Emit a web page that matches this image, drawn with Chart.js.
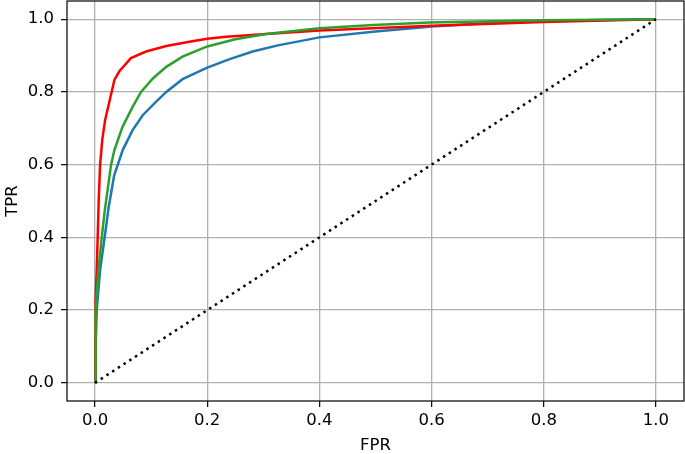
<!DOCTYPE html>
<html lang="en">
<head>
    <meta charset="UTF-8">
    <title>ROC curves</title>
    <script src="https://cdn.jsdelivr.net/npm/chart.js"></script>
    <style>
        body {
            margin: 0;
            background-color: #ffffff;
        }
        canvas {
            display: block;
        }
    </style>
</head>
<body>

<canvas id="rocCanvas" width="685" height="454"></canvas>

<script>
    // ROC curves (FPR, TPR pairs)
    const fprBlue = [0, 0.001, 0.003, 0.009, 0.018, 0.024, 0.034, 0.0493, 0.067, 0.085, 0.109, 0.127, 0.156, 0.2, 0.24, 0.281, 0.326, 0.4, 0.5, 0.6, 0.7, 0.8, 0.9, 1];
    const tprBlue = [0, 0.1, 0.2, 0.31, 0.41, 0.48, 0.57, 0.64, 0.695, 0.736, 0.773, 0.80, 0.835, 0.867, 0.89, 0.911, 0.928, 0.95, 0.966, 0.98, 0.989, 0.995, 0.998, 1];

    const fprGreen = [0, 0.0005, 0.0015, 0.006, 0.012, 0.017, 0.0286, 0.0345, 0.049, 0.067, 0.082, 0.103, 0.127, 0.156, 0.2, 0.25, 0.305, 0.4, 0.496, 0.597, 0.8, 1];
    const tprGreen = [0, 0.12, 0.2, 0.31, 0.4, 0.47, 0.6, 0.64, 0.704, 0.759, 0.80, 0.837, 0.869, 0.897, 0.925, 0.945, 0.959, 0.975, 0.984, 0.991, 0.997, 1];

    const fprRed = [0, 0.0005, 0.0012, 0.003, 0.0047, 0.0065, 0.009, 0.013, 0.018, 0.0255, 0.0345, 0.043, 0.064, 0.091, 0.127, 0.168, 0.2, 0.234, 0.305, 0.4, 0.6, 0.8, 1];
    const tprRed = [0, 0.12, 0.22, 0.31, 0.4, 0.5, 0.6, 0.67, 0.723, 0.773, 0.833, 0.856, 0.893, 0.911, 0.926, 0.938, 0.946, 0.952, 0.959, 0.969, 0.982, 0.992, 1];

    const fprChance = [0, 1];
    const tprChance = [0, 1];

    const xTicks = [0, 0.2, 0.4, 0.6, 0.8, 1.0];
    const yTicks = [0, 0.2, 0.4, 0.6, 0.8, 1.0];

    function toPoints(xs, ys) {
        return xs.map((x, i) => ({ x: x, y: ys[i] }));
    }

    const tickFont = { family: 'DejaVu Sans', size: 16.5 };
    const titleFont = { family: 'DejaVu Sans', size: 16.5, lineHeight: 1 };

    // black box around the plot area, like matplotlib spines
    const frame = {
        id: 'frame',
        afterDatasetsDraw(chart) {
            const a = chart.chartArea;
            const ctx = chart.ctx;
            ctx.save();
            ctx.strokeStyle = '#000';
            ctx.lineWidth = 1.2;
            ctx.strokeRect(a.left, a.top, a.right - a.left, a.bottom - a.top);
            ctx.restore();
        }
    };

    new Chart(document.getElementById('rocCanvas').getContext('2d'), {
        type: 'scatter',
        data: {
            datasets: [
                { data: toPoints(fprChance, tprChance), borderColor: '#000', borderDash: [2.5, 4.3], order: 0 },
                { data: toPoints(fprGreen, tprGreen), borderColor: '#2ca02c', order: 1 },
                { data: toPoints(fprRed, tprRed), borderColor: '#ff0000', order: 2 },
                { data: toPoints(fprBlue, tprBlue), borderColor: '#1f77b4', order: 3 }
            ]
        },
        options: {
            responsive: false,
            animation: false,
            showLine: true,
            elements: {
                point: { radius: 0, hoverRadius: 0 },
                line: { borderWidth: 2.5, tension: 0, fill: false }
            },
            layout: { padding: { top: 1, right: 1, left: 0, bottom: 0 } },
            plugins: {
                legend: { display: false },
                tooltip: { enabled: false }
            },
            scales: {
                x: {
                    type: 'linear',
                    min: -0.05,
                    max: 1.05,
                    afterBuildTicks: s => { s.ticks = xTicks.map(v => ({ value: v })); },
                    afterFit: s => { s.height = 53; s.paddingLeft = 0; s.paddingRight = 0; },
                    ticks: {
                        font: tickFont,
                        color: '#000',
                        padding: 4,
                        maxRotation: 0,
                        callback: v => v.toFixed(1)
                    },
                    grid: { color: '#b0b0b0', lineWidth: 1.3, tickLength: 6, tickColor: '#000', tickWidth: 1.2 },
                    border: { display: false },
                    title: { display: true, text: 'FPR', font: titleFont, color: '#000', padding: { top: 0, bottom: 0 } }
                },
                y: {
                    type: 'linear',
                    min: -0.05,
                    max: 1.05,
                    afterBuildTicks: s => { s.ticks = yTicks.map(v => ({ value: v })); },
                    afterFit: s => { s.width = 67; s.paddingTop = 0; s.paddingBottom = 0; },
                    ticks: {
                        font: tickFont,
                        color: '#000',
                        padding: 7,
                        callback: v => v.toFixed(1)
                    },
                    grid: { color: '#b0b0b0', lineWidth: 1.3, tickLength: 6, tickColor: '#000', tickWidth: 1.2 },
                    border: { display: false },
                    title: { display: true, text: 'TPR', font: titleFont, color: '#000', padding: { top: 4, bottom: 0 } }
                }
            }
        },
        plugins: [frame]
    });
</script>

</body>
</html>
